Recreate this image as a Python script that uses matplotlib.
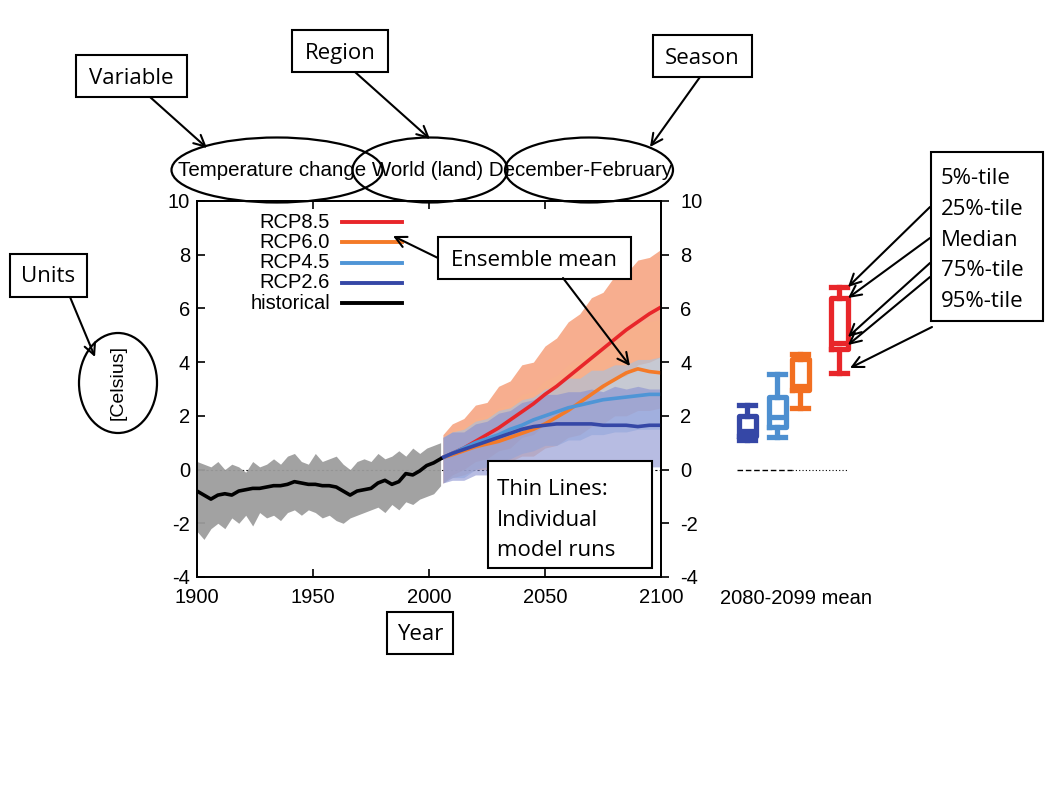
import matplotlib
matplotlib.use("Agg")
import matplotlib.pyplot as plt
from matplotlib.patches import Rectangle, Ellipse
from matplotlib.lines import Line2D

# ---------------- data ----------------
hist_years = [1900,1903,1906,1909,1912,1915,1918,1921,1924,1927,1930,1933,1936,1939,1942,1945,1948,1951,
              1954,1957,1960,1963,1966,1969,1972,1975,1978,1981,1984,1987,1990,1993,1996,1999,2002,2005]
hist_mean = [-0.8,-0.95,-1.1,-0.95,-0.9,-0.95,-0.8,-0.75,-0.7,-0.7,-0.65,-0.6,-0.6,-0.55,-0.45,-0.5,-0.55,-0.55,
             -0.6,-0.6,-0.65,-0.8,-0.95,-0.8,-0.75,-0.7,-0.5,-0.4,-0.55,-0.45,-0.15,-0.2,-0.05,0.15,0.25,0.4]
hist_hi = [0.3,0.2,0.1,0.3,0.0,0.2,0.1,-0.1,0.3,0.1,0.2,0.4,0.2,0.5,0.6,0.3,0.2,0.6,
           0.3,0.4,0.5,0.2,0.0,0.3,0.4,0.3,0.6,0.4,0.5,0.7,0.5,0.8,0.6,0.8,0.9,1.0]
hist_lo = [-2.3,-2.6,-2.2,-2.0,-2.2,-1.8,-2.0,-1.7,-2.1,-1.6,-1.8,-1.7,-1.9,-1.6,-1.5,-1.7,-1.5,-1.6,
           -1.8,-1.7,-1.9,-2.0,-1.8,-1.7,-1.6,-1.5,-1.4,-1.6,-1.3,-1.5,-1.2,-1.3,-1.1,-1.0,-0.9,-0.6]

fut_years = [2006,2010,2015,2020,2025,2030,2035,2040,2045,2050,2055,2060,2065,2070,2075,2080,2085,2090,2095,2100]
rcp85_mean = [0.45,0.6,0.8,1.05,1.3,1.55,1.85,2.15,2.45,2.8,3.1,3.45,3.8,4.15,4.5,4.85,5.2,5.5,5.8,6.05]
rcp60_mean = [0.45,0.55,0.7,0.85,0.95,1.05,1.2,1.35,1.5,1.7,1.95,2.2,2.5,2.8,3.1,3.35,3.6,3.75,3.65,3.6]
rcp45_mean = [0.45,0.6,0.8,1.0,1.15,1.3,1.5,1.65,1.85,2.0,2.15,2.3,2.4,2.5,2.6,2.65,2.7,2.75,2.8,2.8]
rcp26_mean = [0.45,0.6,0.75,0.9,1.05,1.2,1.35,1.5,1.6,1.65,1.7,1.7,1.7,1.7,1.65,1.65,1.65,1.6,1.65,1.65]

rcp85_hi = [1.3,1.7,1.9,2.4,2.5,3.1,3.3,3.9,4.0,4.6,4.9,5.5,5.8,6.4,6.6,7.2,7.3,7.8,7.9,8.2]
rcp85_lo = [-0.5,-0.2,0.0,0.3,0.4,0.7,0.8,1.2,1.3,1.7,1.9,2.3,2.5,2.9,3.0,3.4,3.5,3.9,4.0,4.2]
rcp60_hi = [1.2,1.5,1.6,1.9,2.0,2.3,2.4,2.8,2.9,3.3,3.5,3.9,4.1,4.5,4.6,5.0,5.1,5.4,5.5,5.6]
rcp60_lo = [-0.5,-0.3,-0.2,0.0,0.0,0.2,0.3,0.5,0.5,0.8,0.9,1.2,1.3,1.6,1.7,2.0,2.0,2.2,2.2,2.3]
rcp45_hi = [1.2,1.4,1.5,1.8,1.9,2.2,2.3,2.6,2.7,3.0,3.1,3.4,3.4,3.7,3.7,3.9,3.9,4.1,4.1,4.2]
rcp45_lo = [-0.5,-0.3,-0.3,0.0,0.1,0.3,0.4,0.6,0.7,0.9,0.9,1.1,1.1,1.3,1.3,1.4,1.4,1.5,1.5,1.5]
rcp26_hi = [1.2,1.4,1.4,1.7,1.8,2.1,2.2,2.5,2.6,2.8,2.8,2.9,2.9,3.0,2.9,3.1,3.0,3.1,3.0,3.0]
rcp26_lo = [-0.5,-0.4,-0.4,-0.2,-0.2,0.0,0.0,0.2,0.2,0.3,0.2,0.3,0.2,0.3,0.1,0.2,0.1,0.2,0.1,0.1]

# 2080-2099 mean percentiles: 5%, 25%, median, 75%, 95%
box_labels = ["RCP2.6", "RCP4.5", "RCP6.0", "RCP8.5"]
box_p5  = [1.1, 1.2, 2.3, 3.6]
box_p25 = [1.25, 1.6, 2.95, 4.5]
box_med = [1.45, 1.95, 3.1, 4.7]
box_p75 = [2.0, 2.7, 4.1, 6.4]
box_p95 = [2.4, 3.55, 4.3, 6.8]

legend_labels = ["RCP8.5", "RCP6.0", "RCP4.5", "RCP2.6", "historical"]
x_ticks = [1900, 1950, 2000, 2050, 2100]
y_ticks = [-4, -2, 0, 2, 4, 6, 8, 10]

# ---------------- styles ----------------
C85, C60, C45, C26 = '#e8262a', '#f47a28', '#4f95d6', '#3547a6'
S85, S60, S45, S26 = '#f59a73', '#f8b38a', '#9cc3ea', '#8890d0'
SANS = ['Liberation Sans', 'DejaVu Sans']
NOTE = ['Open Sans', 'DejaVu Sans']
FS = 14.5
NFS = 16

W, H = 1055, 796
fig = plt.figure(figsize=(W/100, H/100), dpi=100)
fig.patch.set_facecolor('white')

def px_axes(x0, y0, x1, y1):
    return fig.add_axes([x0/W, 1 - y1/H, (x1-x0)/W, (y1-y0)/H])

ax = px_axes(197, 201, 661, 577)
ax.set_xlim(1900, 2100)
ax.set_ylim(-4, 10)

ax.fill_between(hist_years, hist_lo, hist_hi, color='#9d9d9d', lw=0, alpha=0.95, zorder=2)
ax.fill_between(fut_years, rcp85_lo, rcp85_hi, color=S85, lw=0, alpha=0.8, zorder=2)
ax.fill_between(fut_years, rcp60_lo, rcp60_hi, color=S60, lw=0, alpha=0.6, zorder=2)
ax.fill_between(fut_years, rcp45_lo, rcp45_hi, color=S45, lw=0, alpha=0.55, zorder=2)
ax.fill_between(fut_years, rcp26_lo, rcp26_hi, color=S26, lw=0, alpha=0.6, zorder=2)

ax.axhline(0, color='k', lw=0.8, ls=(0, (2, 2)), zorder=1)

series = [(fut_years, rcp85_mean, C85), (fut_years, rcp60_mean, C60), (fut_years, rcp45_mean, C45),
          (fut_years, rcp26_mean, C26), (hist_years, hist_mean, 'k')]
for xs, ys, c in series:
    ax.plot(xs, ys, color=c, lw=2.6, zorder=4)

ax.set_xticks(x_ticks)
ax.set_xticklabels([str(t) for t in x_ticks], fontfamily=SANS, fontsize=FS)
ax.set_yticks(y_ticks)
ax.set_yticklabels([str(t) for t in y_ticks], fontfamily=SANS, fontsize=FS)
ax.tick_params(axis='y', direction='in', length=6, width=1.2, right=False, pad=5)
ax.tick_params(axis='x', direction='in', length=6, width=1.2, top=True, pad=8)
for s in ax.spines.values():
    s.set_linewidth(1.3)

ax2 = ax.twinx()
ax2.set_ylim(-4, 10)
ax2.set_yticks(y_ticks)
ax2.set_yticklabels([str(t) for t in y_ticks], fontfamily=SANS, fontsize=FS)
ax2.tick_params(axis='y', direction='out', length=6, width=1.2, pad=8)
for s in ax2.spines.values():
    s.set_linewidth(1.3)

# ---------------- box plots (2080-2099 mean) ----------------
bx = px_axes(700, 201, 900, 577)
bx.set_ylim(-4, 10)
bx.set_xlim(700, 900)
bx.axis('off')
box_pos = [747, 777, 800, 839]
box_cols = [C26, '#4d8fd0', '#f26f21', C85]
for i in range(len(box_labels)):
    st = [dict(whislo=box_p5[i], q1=box_p25[i], med=box_med[i], q3=box_p75[i], whishi=box_p95[i], label=box_labels[i])]
    c = box_cols[i]
    bx.bxp(st, positions=[box_pos[i]], widths=17, showfliers=False, manage_ticks=False,
           boxprops=dict(color=c, lw=3.8), medianprops=dict(color=c, lw=3.8),
           whiskerprops=dict(color=c, lw=3.8), capprops=dict(color=c, lw=3.8), capwidths=16)
bx.plot([737, 792], [0, 0], color='k', lw=1.0, ls=(0, (4, 2)))
bx.plot([792, 848], [0, 0], color='k', lw=0.8, ls=(0, (1, 2)))

# ---------------- annotation overlay ----------------
ov = fig.add_axes([0, 0, 1, 1], zorder=10)
ov.set_xlim(0, W)
ov.set_ylim(H, 0)
ov.axis('off')
ov.patch.set_alpha(0)

# legend (labels left of line samples)
leg_cols = [C85, C60, C45, C26, 'k']
for i, (lab, c) in enumerate(zip(legend_labels, leg_cols)):
    yy = 222 + 20.3 * i
    ov.text(330, yy, lab, ha='right', va='center', fontsize=FS, family=SANS, zorder=6)
    ov.add_line(Line2D([342, 402], [yy, yy], color=c, lw=2.8, zorder=6))

def box(x0, y0, x1, y1):
    ov.add_patch(Rectangle((x0, y0), x1-x0, y1-y0, fill=True, fc='white', ec='black', lw=1.5, zorder=5))

def arrow(x0, y0, x1, y1):
    ov.annotate('', xy=(x1, y1), xytext=(x0, y0),
                arrowprops=dict(arrowstyle='->', lw=1.5, color='black', mutation_scale=20,
                                shrinkA=0, shrinkB=0), zorder=6)

def note(x, y, s, ha='center', ls=1.2):
    ov.text(x, y, s, ha=ha, va='center', fontsize=NFS, family=NOTE, linespacing=ls, zorder=7)

box(76, 55, 187, 97)
note(131, 78, 'Variable')
box(292, 30, 388, 72)
note(340, 53, 'Region')
box(653, 35, 752, 77)
note(702, 58, 'Season')
box(10, 254, 87, 297)
note(48, 277, 'Units')
box(387, 612, 453, 654)
note(420, 635, 'Year')

box(488, 461, 652, 568)
note(497, 520, 'Thin Lines:\nIndividual\nmodel runs', ha='left', ls=1.6)

arrow(438, 258, 393, 236)
arrow(563, 278, 630, 366)
box(438, 237, 631, 279)
note(534, 260, 'Ensemble mean')

box(931, 152, 1043, 321)
note(941, 240, '5%-tile\n25%-tile\nMedian\n75%-tile\n95%-tile', ha='left', ls=1.6)
arrow(930, 207, 848, 287)
arrow(930, 238, 848, 298)
arrow(930, 263, 848, 337)
arrow(930, 277, 848, 345)
arrow(932, 327, 850, 368)

# ellipses + title
for cx, w in [(277, 211), (430, 155), (589, 168)]:
    ov.add_patch(Ellipse((cx, 170), w, 65, fill=False, ec='black', lw=1.6, zorder=5))
ov.text(425, 171, 'Temperature change World (land) December-February', ha='center', va='center',
        fontsize=14.8, family=SANS, zorder=6)
arrow(150, 97, 207, 148)
arrow(355, 72, 430, 139)
arrow(700, 77, 650, 147)

ov.add_patch(Ellipse((118, 383), 78, 100, fill=False, ec='black', lw=1.6, zorder=5))
ov.text(118, 383, '[Celsius]', rotation=90, ha='center', va='center', fontsize=14, family=SANS, zorder=6)
arrow(70, 297, 95, 357)

ov.text(796, 598, '2080-2099 mean', ha='center', va='center', fontsize=FS, family=SANS, zorder=6)

fig.savefig('out.png', dpi=100, facecolor='white')
